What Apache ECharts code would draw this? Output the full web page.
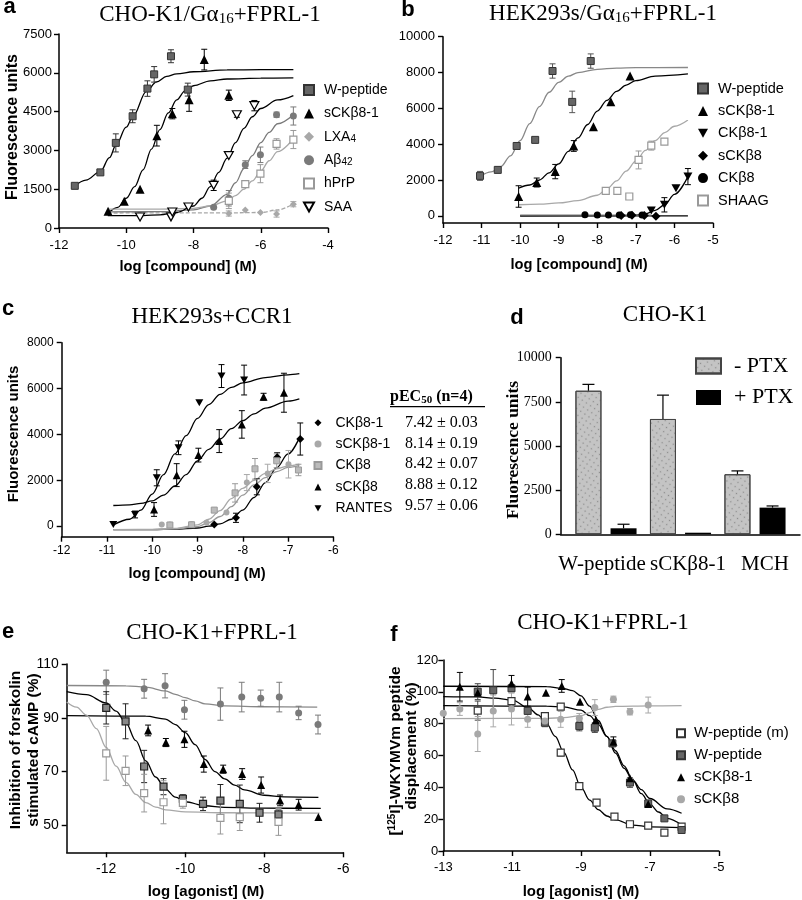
<!DOCTYPE html>
<html><head><meta charset="utf-8">
<script src="https://cdn.jsdelivr.net/npm/echarts@6/dist/echarts.min.js"></script>
<style>html,body{margin:0;padding:0;background:#fff}#c{width:802px;height:900px}</style>
</head><body><div id="c"></div>
<script>
// ---------------- DATA ----------------
// points: [log conc, value, sem]; fits: [log conc, value]
// Panel a
const a_wpep = [[-11.53,1630,0],[-10.77,2150,0],[-10.31,3290,350],[-9.81,4320,250],[-9.37,5390,300],[-9.17,5940,300],[-8.67,6640,250],[-8.17,5350,250]];
const a_wpep_fit = [[-11.55,1600],[-11.2,1850],[-10.77,2180],[-10.5,2720],[-10.3,3220],[-10,3900],[-9.8,4320],[-9.4,5280],[-9.1,5650],[-8.8,5860],[-8.5,5960],[-8,6040],[-7,6110],[-6,6120],[-5.03,6120]];
const a_sck81 = [[-10.54,645,0],[-10.06,1030,0],[-9.59,1500,0],[-9.09,3570,400],[-8.63,4420,200],[-8.13,4960,450],[-7.68,6510,400],[-6.95,5130,200]];
const a_sck81_fit = [[-10.55,560],[-10.25,800],[-10,1150],[-9.75,1600],[-9.5,2250],[-9.25,3050],[-9,3800],[-8.75,4450],[-8.5,4950],[-8.25,5300],[-8,5500],[-7.5,5690],[-7,5760],[-6,5795],[-5.03,5800]];
const a_lxa4 = [[-6.95,560,100],[-6.46,700,0],[-6.01,600,0],[-5.53,540,120],[-5.03,920,100]];
const a_lxa4_fit = [[-10.55,580],[-7,585],[-6,600],[-5.5,700],[-5.03,930]];
const a_ab42 = [[-7.40,800,0],[-6.95,1150,300],[-6.46,2450,150],[-6.01,2830,300],[-5.53,4380,100],[-5.03,4330,350]];
const a_ab42_fit = [[-10.55,620],[-9,630],[-8,700],[-7.5,850],[-7,1300],[-6.75,1750],[-6.5,2300],[-6.25,2800],[-6,3300],[-5.75,3700],[-5.5,4030],[-5.03,4380]];
const a_hprp = [[-6.95,1050,300],[-6.46,1700,0],[-6.01,2100,350],[-5.53,3250,200],[-5.03,3420,350]];
const a_hprp_fit = [[-10.55,730],[-9,730],[-8,760],[-7.5,850],[-7,1050],[-6.75,1250],[-6.5,1500],[-6.25,1820],[-6,2200],[-5.75,2600],[-5.5,2950],[-5.03,3450]];
const a_saa = [[-9.59,425,0],[-8.67,430,0],[-8.63,620,0],[-8.15,810,0],[-7.40,1650,200],[-6.95,2800,0],[-6.71,4380,100],[-6.19,4730,200]];
const a_saa_fit = [[-10.55,480],[-9.5,480],[-9,510],[-8.5,600],[-8,850],[-7.75,1150],[-7.5,1600],[-7.25,2150],[-7,2700],[-6.75,3300],[-6.5,3850],[-6.25,4300],[-6,4620],[-5.5,4950],[-5.03,5120]];
// Panel b
const b_wpep = [[-11.04,2230,250],[-10.58,2565,150],[-10.09,3900,0],[-9.61,4240,0],[-9.16,8085,400],[-8.65,6360,600],[-8.17,8640,400]];
const b_wpep_fit = [[-11.04,2200],[-10.75,2450],[-10.5,2750],[-10.25,3350],[-10,4200],[-9.75,5150],[-9.5,6100],[-9.25,6900],[-9,7450],[-8.75,7800],[-8.5,8000],[-8,8180],[-7.5,8250],[-7,8270],[-5.65,8280]];
const b_sck81 = [[-10.04,1080,600],[-9.57,1860,250],[-9.09,2470,400],[-8.61,3900,300],[-8.10,4980,0],[-7.65,6375,0],[-7.15,7810,0]];
const b_sck81_fit = [[-10.04,1540],[-9.75,1720],[-9.5,2000],[-9.25,2400],[-9,2900],[-8.75,3600],[-8.5,4350],[-8.25,5100],[-8,5850],[-7.75,6450],[-7.5,6950],[-7.25,7300],[-7,7550],[-6.5,7800],[-5.65,7920]];
const b_ck81 = [[-6.60,300,0],[-6.26,615,400],[-5.96,1540,0],[-5.65,2190,450]];
const b_ck81_fit = [[-10,0],[-7.5,10],[-7,40],[-6.75,120],[-6.5,300],[-6.25,620],[-6,1200],[-5.65,2200]];
const b_sck8 = [[-7.38,20,0],[-7.10,30,0],[-6.78,20,0],[-6.48,-30,0]];
const b_sck8_fit = [[-10,0],[-5.65,0]];
const b_ck8 = [[-8.32,60,0],[-8.0,50,0],[-7.71,50,0],[-7.43,40,0],[-7.14,60,0],[-6.84,40,0]];
const b_ck8_fit = [[-10,40],[-6.6,40]];
const b_shaag = [[-7.78,1395,0],[-7.48,1395,0],[-7.17,1080,0],[-6.93,3120,500],[-6.60,3920,250],[-6.26,4145,0]];
const b_shaag_fit = [[-10.04,620],[-9.5,650],[-9,720],[-8.5,850],[-8,1150],[-7.75,1500],[-7.5,1950],[-7.25,2500],[-7,3050],[-6.75,3650],[-6.5,4200],[-6.25,4650],[-6,5000],[-5.65,5350]];
// Panel c
const c_ck81 = [[-8.63,73,0],[-8.15,364,200],[-7.69,1716,350],[-7.24,3000,200],[-6.73,3800,700]];
const c_ck81_fit = [[-10.86,-150],[-10,-150],[-9.5,-130],[-9,-80],[-8.75,0],[-8.5,100],[-8.25,300],[-8,700],[-7.75,1250],[-7.5,1900],[-7.25,2550],[-7,3150],[-6.75,3850]];
const c_sck81 = [[-9.79,70,0],[-9.61,70,0],[-9.13,80,0],[-8.80,150,0],[-8.36,600,0],[-7.91,1900,350],[-7.45,2300,400],[-6.99,2700,600]];
const c_sck81_fit = [[-10.86,-150],[-10,-150],[-9.5,-120],[-9,-20],[-8.75,150],[-8.5,420],[-8.25,850],[-8,1350],[-7.75,1800],[-7.5,2120],[-7.25,2380],[-7,2560],[-6.75,2650]];
const c_ck8 = [[-9.61,50,0],[-9.13,60,0],[-8.63,700,0],[-8.17,1450,400],[-7.73,2500,450],[-7.25,2850,300],[-6.77,2450,250]];
const c_ck8_fit = [[-10.86,-150],[-10,-140],[-9.5,-100],[-9,60],[-8.75,300],[-8.5,680],[-8.25,1200],[-8,1650],[-7.75,2000],[-7.5,2300],[-7.25,2500],[-7,2620],[-6.75,2700]];
const c_sck8 = [[-9.96,727,300],[-9.46,2225,500],[-8.98,3098,300],[-8.52,3709,500],[-8.02,4436,600],[-7.54,5644,150],[-7.09,5818,850]];
const c_sck8_fit = [[-10.86,900],[-10.5,930],[-10.25,990],[-10,1100],[-9.75,1350],[-9.5,1750],[-9.25,2250],[-9,2850],[-8.75,3350],[-8.5,3800],[-8.25,4250],[-8,4600],[-7.75,4900],[-7.5,5150],[-7,5450],[-6.75,5550]];
const c_rantes = [[-10.86,73,0],[-10.38,509,150],[-9.90,2109,350],[-9.42,3418,300],[-8.96,5380,0],[-8.47,6545,500],[-7.97,6371,650]];
const c_rantes_fit = [[-10.86,50],[-10.5,300],[-10.25,700],[-10,1400],[-9.75,2250],[-9.5,3150],[-9.25,3950],[-9,4700],[-8.75,5300],[-8.5,5750],[-8.25,6050],[-8,6250],[-7.5,6480],[-7,6600],[-6.75,6650]];
const c_pec50 = [7.42, 8.14, 8.42, 8.88, 9.57];
const c_pec50_sem = [0.03, 0.19, 0.07, 0.12, 0.06];
// Panel d
const d_cats = ['W-peptide', 'sCKβ8-1', 'MCH'];
const d_minus = [8130, 6530, 3400];
const d_minus_err = [360, 1350, 190];
const d_plus = [340, 90, 1510];
const d_plus_err = [230, 0, 95];
// Panel e
const e_sck8 = [[-12.0,103.2,4.5],[-11.04,100.8,3.5],[-10.51,101.9,4.5],[-10.02,93.0,3.5],[-9.11,95.1,6],[-8.57,97.7,5.5],[-8.09,97.3,3],[-7.62,97.7,5.5],[-7.13,91.8,2.5],[-6.64,87.5,3.5]];
const e_sck8_fit = [[-13,102],[-11.5,101.9],[-11,101.4],[-10.5,100],[-10.25,98.7],[-10,97.5],[-9.75,96.3],[-9.5,95.2],[-9,94.4],[-8,94.1],[-6.66,94]];
const e_sck81 = [[-10.94,85.3,2],[-10.49,80.8,1.5],[-10.02,82.0,3],[-9.53,72.8,3],[-9.04,70.9,1.5],[-8.56,69.1,2],[-8.08,65.0,3],[-7.60,59.3,2],[-7.13,57.7,2],[-6.63,53.1,0]];
const e_sck81_fit = [[-13,90.8],[-11,90.6],[-10.5,89.5],[-10.25,87.5],[-10,84.5],[-9.75,80],[-9.5,74.5],[-9.25,70],[-9,67.3],[-8.75,65],[-8.5,63.2],[-8,61.2],[-7.5,60.6],[-6.63,60.4]];
const e_wpep = [[-12.0,93.7,6],[-11.51,88.7,6.5],[-11.04,71.9,6],[-10.55,64.4,3],[-10.06,59.9,1.5],[-9.55,58.0,2.5],[-9.11,59.2,6],[-8.62,58.0,7],[-8.12,54.7,3.5],[-7.64,54.1,2]];
const e_wpep_fit = [[-13,99.7],[-12.5,98.6],[-12,95.5],[-11.75,92.5],[-11.5,88],[-11.25,81.5],[-11,74],[-10.75,68],[-10.5,63.5],[-10.25,60.5],[-10,58.8],[-9.5,57.3],[-9,56.7],[-8,56.4],[-6.57,56.3]];
const e_wpepm = [[-12.0,76.8,10],[-11.51,70.3,5.5],[-11.04,62.0,7],[-10.55,58.6,8],[-10.06,58.4,2],[-9.11,52.8,6],[-8.62,53.1,5],[-7.64,51.3,5]];
const e_wpepm_fit = [[-13,95.9],[-12.75,94],[-12.5,91],[-12.25,86],[-12,79],[-11.75,72],[-11.5,66],[-11.25,61.5],[-11,58.5],[-10.75,56.8],[-10.5,55.8],[-10,55],[-9,54.7],[-6.6,54.6]];
// Panel f
const f_wpepm = [[-12.0,88.2,6],[-11.02,94.2,0],[-10.05,84.8,0],[-9.59,90.7,0],[-9.59,61.8,2],[-9.05,40.8,2],[-8.55,30.4,0],[-8.03,21.6,0],[-7.58,16.8,1.5],[-7.05,15.9,0],[-6.58,11.5,0],[-6.08,15.3,0]];
const f_wpepm_fit = [[-13,97],[-12,96.8],[-11.5,96],[-11,94.8],[-10.5,89.5],[-10.25,85.5],[-10,80],[-9.75,72],[-9.5,62],[-9.25,51],[-9,40],[-8.75,32],[-8.5,26],[-8.25,22],[-8,19.5],[-7.5,16.3],[-7,15.2],[-6.08,14.7]];
const f_wpep = [[-12.0,100.1,5],[-11.55,101,13],[-11.02,102.2,0],[-10.55,88.0,0],[-10.05,80.6,2.5],[-9.05,78.5,3],[-8.60,77.5,3],[-8.09,67.6,2],[-7.58,43,3],[-7.05,29.9,0],[-6.58,20.5,0],[-6.08,13.2,0]];
const f_wpep_fit = [[-13,91.3],[-10,91],[-9.5,90.5],[-9,88.5],[-8.75,85],[-8.5,79.5],[-8.25,72],[-8,63],[-7.75,53.5],[-7.5,44.5],[-7.25,36],[-7,29.5],[-6.75,24.5],[-6.5,20.5],[-6.08,16.3]];
const f_sck81 = [[-12.52,103.2,9],[-12.0,99.5,0],[-11.02,105.3,5],[-10.55,97.0,6],[-10.02,99.5,0],[-9.56,103.7,4],[-9.03,93.8,0],[-8.57,82.3,0],[-8.06,68.7,3],[-7.58,45.7,0],[-7.05,29.5,2]];
const f_sck81_fit = [[-13,103.5],[-10,103.3],[-9.5,102],[-9.25,100.8],[-9,97.5],[-8.75,91],[-8.5,82],[-8.25,72],[-8,61.5],[-7.75,52],[-7.5,44.5],[-7.25,38.5],[-7,33],[-6.5,26.5],[-6.08,23.7]];
const f_sck8 = [[-13.0,86.5,0],[-12.52,89.2,4],[-12.0,73.5,11],[-11.55,88.0,10],[-11.02,89.2,10],[-10.55,82.7,5],[-10.05,81.7,3],[-9.59,82.7,5],[-9.05,83.4,3],[-8.60,90.1,5],[-8.06,95.3,2],[-7.58,87.5,2],[-7.05,91.7,5]];
const f_sck8_fit = [[-13,83.2],[-10,83.3],[-9.5,83.8],[-9,85],[-8.75,87],[-8.5,89],[-8.25,90.3],[-8,90.9],[-7,91.2],[-6.08,91.3]];

// ---------------- BUILD ----------------
const SANS = '"Liberation Sans", Arial, Helvetica, sans-serif';
const SERIF = '"Liberation Serif", "Times New Roman", Times, serif';
const INV_TRI = 'path://M0,0L10,0L5,9Z';

const grids = [
  {left:59, top:34, width:269, height:194},
  {left:443, top:36.7, width:270, height:186.3},
  {left:61.7, top:342.7, width:271.6, height:194},
  {left:568.75, top:357.7, width:223.5, height:176.6},
  {left:66.7, top:664, width:276.6, height:188.3},
  {left:443.3, top:660, width:275.5, height:191},
  {left:560.7, top:357.7, width:239.3, height:176.6}
];

const plain = v => String(v);
function axis(gi, o) {
  const lab = Object.assign({color:'#000', fontFamily:SANS, fontSize:13, margin:8, formatter:plain}, o.label || {});
  const tick = Object.assign({show:true, inside:false, length:5, lineStyle:{color:'#000', width:1.4}}, o.tick || {});
  const ax = {
    type:'value', gridIndex:gi,
    axisLine:{show:true, onZero:false, lineStyle:{color:'#000', width:1.5}},
    axisTick:tick, axisLabel:lab,
    splitLine:{show:false}, minorTick:{show:false}, minorSplitLine:{show:false}
  };
  ['min','max','interval','offset','type','data','show','boundaryGap'].forEach(k => { if (o[k] !== undefined) ax[k] = o[k]; });
  if (o.axisLine) ax.axisLine = o.axisLine;
  return ax;
}

const xAxis = [
  axis(0, {min:-12, max:-4, interval:2, label:{margin:11}}),
  axis(1, {min:-12, max:-5, interval:1, label:{margin:11}}),
  axis(2, {min:-12, max:-6, interval:1, label:{margin:8, fontSize:12}}),
  axis(3, {type:'category', data:d_cats, boundaryGap:true, axisLine:{show:false}, tick:{show:false},
    label:{margin:20, interval:0, fontFamily:SERIF, fontSize:21, hideOverlap:false,
      formatter:(v, i) => ['{w|' + v + '}', '{s|' + v + '}', '{m|' + v + '}'][i],
      rich:{w:{fontFamily:SERIF, fontSize:21, padding:[0,8,0,0]},
            s:{fontFamily:SERIF, fontSize:21, padding:[0,0,0,15]},
            m:{fontFamily:SERIF, fontSize:21, padding:[0,0,0,20]}}}}),
  axis(4, {min:-13, max:-6, label:{margin:10, fontSize:14, customValues:[-12,-10,-8,-6]}, tick:{customValues:[-12,-10,-8,-6]}}),
  axis(5, {min:-13, max:-5, label:{margin:10, customValues:[-13,-11,-9,-7,-5]}, tick:{customValues:[-13,-11,-9,-7,-5]}}),
  axis(6, {min:0, max:1, tick:{show:false}, label:{show:false}})
];
const yAxis = [
  axis(0, {min:0, max:7500, interval:1500, label:{margin:7}}),
  axis(1, {min:-400, max:10000, label:{margin:8, customValues:[0,2000,4000,6000,8000,10000]}, tick:{customValues:[0,2000,4000,6000,8000,10000]}}),
  axis(2, {min:-460, max:8000, label:{margin:8, fontSize:12, customValues:[0,2000,4000,6000,8000]}, tick:{customValues:[0,2000,4000,6000,8000]}}),
  axis(3, {min:0, max:10000, interval:2500, offset:8.05, label:{margin:9, fontFamily:SERIF, fontSize:14}}),
  axis(4, {min:40, max:110, label:{margin:8, fontSize:14, customValues:[50,70,90,110]}, tick:{customValues:[50,70,90,110]}}),
  axis(5, {min:0, max:120, interval:20, label:{margin:5}}),
  axis(6, {min:0, max:1, show:false})
];

function errBars(color) {
  return function (params, api) {
    const x = api.value(0), y = api.value(1), e = api.value(2);
    const p1 = api.coord([x, y + e]), p2 = api.coord([x, y - e]);
    const s = {stroke:color, lineWidth:1};
    return {type:'group', children:[
      {type:'line', shape:{x1:p1[0], y1:p1[1], x2:p2[0], y2:p2[1]}, style:s},
      {type:'line', shape:{x1:p1[0]-3, y1:p1[1], x2:p1[0]+3, y2:p1[1]}, style:s},
      {type:'line', shape:{x1:p2[0]-3, y1:p2[1], x2:p2[0]+3, y2:p2[1]}, style:s}
    ]};
  };
}

const series = [];
function addSet(g, key, label, pts, fit, st) {
  if (fit) series.push({type:'line', name:key + '-fit', xAxisIndex:g, yAxisIndex:g, data:fit,
    smooth:0.35, smoothMonotone:'x', showSymbol:false, symbol:'none', silent:true, z:2,
    lineStyle:{color:st.line, width:st.lw || 1.3, type:st.dash || 'solid'}});
  const ebs = pts.filter(p => p[2] > 0);
  if (ebs.length) series.push({type:'custom', name:key + '-err', xAxisIndex:g, yAxisIndex:g, data:ebs,
    renderItem:errBars(st.err || st.stroke || st.fill), silent:true, z:3});
  series.push({type:'scatter', name:label ? key + '@' + label : key, xAxisIndex:g, yAxisIndex:g,
    data:pts.map(p => [p[0], p[1]]), symbol:st.symbol, symbolSize:st.size || 7,
    itemStyle:{color:st.fill, borderColor:st.stroke || st.fill, borderWidth:st.bw || 0, opacity:1}, z:4, silent:true});
}

const BK = '#000', MG = '#7a7a7a', LG = '#a8a8a8';
// a
addSet(0, 'a1', 'W-peptide', a_wpep, a_wpep_fit, {symbol:'rect', size:7, fill:'#666', stroke:'#333', bw:1, line:BK, err:'#333'});
addSet(0, 'a2', 'sCKβ8-1', a_sck81, a_sck81_fit, {symbol:'triangle', size:9, fill:BK, line:BK});
addSet(0, 'a3', 'LXA{s|4}', a_lxa4, a_lxa4_fit, {symbol:'diamond', size:7, fill:LG, line:LG, dash:[4,2]});
addSet(0, 'a4', 'Aβ{s|42}', a_ab42, a_ab42_fit, {symbol:'circle', size:7, fill:MG, line:MG});
addSet(0, 'a5', 'hPrP', a_hprp, a_hprp_fit, {symbol:'rect', size:7, fill:'#fff', stroke:'#999', bw:1.2, line:LG});
addSet(0, 'a6', 'SAA', a_saa, a_saa_fit, {symbol:INV_TRI, size:[9,8], fill:'#fff', stroke:BK, bw:1.2, line:BK});
// b
addSet(1, 'b1', 'W-peptide', b_wpep, b_wpep_fit, {symbol:'rect', size:7, fill:'#666', stroke:'#333', bw:1, line:'#888', err:'#555'});
addSet(1, 'b2', 'sCKβ8-1', b_sck81, b_sck81_fit, {symbol:'triangle', size:9, fill:BK, line:BK});
addSet(1, 'b3', 'CKβ8-1', b_ck81, b_ck81_fit, {symbol:INV_TRI, size:[9,8], fill:BK, line:BK});
addSet(1, 'b4', 'sCKβ8', b_sck8, b_sck8_fit, {symbol:'diamond', size:9, fill:BK, line:BK});
addSet(1, 'b5', 'CKβ8', b_ck8, b_ck8_fit, {symbol:'circle', size:7, fill:BK, line:'#777'});
addSet(1, 'b6', 'SHAAG', b_shaag, b_shaag_fit, {symbol:'rect', size:7, fill:'#fff', stroke:'#999', bw:1.2, line:LG});
// c
addSet(2, 'c1', 'CKβ8-1', c_ck81, c_ck81_fit, {symbol:'diamond', size:8, fill:BK, line:BK});
addSet(2, 'c2', 'sCKβ8-1', c_sck81, c_sck81_fit, {symbol:'circle', size:6, fill:LG, line:'#999'});
addSet(2, 'c3', 'CKβ8', c_ck8, c_ck8_fit, {symbol:'rect', size:6, fill:'#bbb', stroke:'#999', bw:1, line:LG});
addSet(2, 'c4', 'sCKβ8', c_sck8, c_sck8_fit, {symbol:'triangle', size:8, fill:BK, line:BK});
addSet(2, 'c5', 'RANTES', c_rantes, c_rantes_fit, {symbol:INV_TRI, size:[8,7], fill:BK, line:BK});
// e
addSet(4, 'e1', null, e_sck8, e_sck8_fit, {symbol:'circle', size:7, fill:MG, line:'#888'});
addSet(4, 'e2', null, e_sck81, e_sck81_fit, {symbol:'triangle', size:8, fill:BK, line:BK});
addSet(4, 'e3', null, e_wpep, e_wpep_fit, {symbol:'rect', size:7, fill:'#888', stroke:'#222', bw:1.2, line:BK, err:'#222'});
addSet(4, 'e4', null, e_wpepm, e_wpepm_fit, {symbol:'rect', size:7, fill:'#fff', stroke:'#999', bw:1.2, line:LG});
// f
addSet(5, 'f1', 'W-peptide (m)', f_wpepm, f_wpepm_fit, {symbol:'rect', size:7, fill:'#fff', stroke:'#333', bw:1.2, line:BK, err:'#444'});
addSet(5, 'f2', 'W-peptide', f_wpep, f_wpep_fit, {symbol:'rect', size:7, fill:'#666', stroke:'#333', bw:1, line:BK, err:'#444'});
addSet(5, 'f3', 'sCKβ8-1', f_sck81, f_sck81_fit, {symbol:'triangle', size:8, fill:BK, line:BK});
addSet(5, 'f4', 'sCKβ8', f_sck8, f_sck8_fit, {symbol:'circle', size:7, fill:LG, line:LG});

// d bars
const BAR_W = 26, BAR_GAP = 0.35;
series.push({type:'bar', name:'d@- PTX', xAxisIndex:3, yAxisIndex:3, data:d_minus, barWidth:BAR_W, barGap:(BAR_GAP*100)+'%',
  itemStyle:{color:'#c4c4c4', borderColor:'#444', borderWidth:1,
    decal:{symbol:'circle', symbolSize:0.5, color:'rgba(70,70,70,0.45)', dashArrayX:[3,2], dashArrayY:[3,2], rotation:0.6}}, z:3, silent:true});
series.push({type:'bar', name:'d@+ PTX', xAxisIndex:3, yAxisIndex:3, data:d_plus, barWidth:BAR_W,
  itemStyle:{color:'#000'}, z:3, silent:true});
const barErr = [];
d_minus.forEach((v, i) => { if (d_minus_err[i] > 0) barErr.push([i, v, d_minus_err[i], -1]); });
d_plus.forEach((v, i) => { if (d_plus_err[i] > 0) barErr.push([i, v, d_plus_err[i], 1]); });
series.push({type:'custom', name:'d-err', xAxisIndex:3, yAxisIndex:3, data:barErr, silent:true, z:4,
  renderItem:function (params, api) {
    const off = api.value(3) * (BAR_W * (1 + BAR_GAP)) / 2;
    const p0 = api.coord([api.value(0), api.value(1)]);
    const p1 = api.coord([api.value(0), api.value(1) + api.value(2)]);
    const x = p0[0] + off, s = {stroke:'#000', lineWidth:1.2};
    return {type:'group', children:[
      {type:'line', shape:{x1:x, y1:p0[1], x2:x, y2:p1[1]}, style:s},
      {type:'line', shape:{x1:x-6, y1:p1[1], x2:x+6, y2:p1[1]}, style:s}
    ]};
  }});

const fmt = n => n.slice(n.indexOf('@') + 1);
function lg(names, left, top, gap, fs, pad, iw, lh) {
  return {show:true, orient:'vertical', left, top, itemGap:gap, itemWidth:iw, itemHeight:iw, data:names,
    formatter:fmt, selectedMode:false, padding:0, inactiveColor:'#000',
    textStyle:{fontFamily:SANS, fontSize:fs, color:'#000', lineHeight:lh || 14, padding:[0,0,0,pad],
      rich:{s:{fontFamily:SANS, fontSize:fs - 4, lineHeight:6, verticalAlign:'bottom', color:'#000'}}}};
}
const legends = [
  lg(['a1@W-peptide','a2@sCKβ8-1','a3@LXA{s|4}','a4@Aβ{s|42}','a5@hPrP','a6@SAA'], 303, 83, 9.4, 14, 5, 10),
  lg(['b1@W-peptide','b2@sCKβ8-1','b3@CKβ8-1','b4@sCKβ8','b5@CKβ8','b6@SHAAG'], 697, 81, 7.4, 14.5, 5, 10),
  lg(['c1@CKβ8-1','c2@sCKβ8-1','c3@CKβ8','c4@sCKβ8','c5@RANTES'], 313.5, 415.7, 7.4, 14, 9, 7),
  lg(['f1@W-peptide (m)','f2@W-peptide','f3@sCKβ8-1','f4@sCKβ8'], 676, 725.8, 7, 15, 4, 8, 15),
  {show:true, orient:'vertical', left:695, top:355, itemGap:9.5, itemWidth:25, itemHeight:15, icon:'rect',
   data:['d@- PTX','d@+ PTX'], formatter:fmt, selectedMode:false, padding:0,
   textStyle:{fontFamily:SERIF, fontSize:22, color:'#000', lineHeight:15, padding:[0,0,0,8]}}
];

// texts
const G = [];
function txt(x, y, text, o) {
  o = o || {};
  const st = {text, fontFamily:o.ff || SANS, fontSize:o.fs || 14, fontWeight:o.fw || 'normal', fill:'#000',
    align:o.align || 'center', verticalAlign:'middle', textAlign:o.align || 'center', textVerticalAlign:'middle'};
  if (o.rich) st.rich = o.rich;
  if (o.lh) st.lineHeight = o.lh;
  G.push({type:'text', x, y, rotation:o.rot || 0, style:st, silent:true, z:10});
}
const subR = fs => ({s:{fontFamily:SERIF, fontSize:fs, lineHeight:8, verticalAlign:'bottom'}});
const TS = {ff:SERIF, fs:23, lh:24, rich:subR(15)};
txt(210, 15, 'CHO-K1/Gα{s|16}+FPRL-1', TS);
txt(603, 14, 'HEK293s/Gα{s|16}+FPRL-1', TS);
txt(212, 317, 'HEK293s+CCR1', {ff:SERIF, fs:23});
txt(665, 315, 'CHO-K1', {ff:SERIF, fs:23});
txt(212, 633, 'CHO-K1+FPRL-1', {ff:SERIF, fs:23});
txt(603, 623, 'CHO-K1+FPRL-1', {ff:SERIF, fs:23});
const LB = {fs:22, fw:'bold'};
txt(9.5, 7, 'a', LB); txt(408, 10, 'b', LB); txt(8, 309, 'c', LB);
txt(517, 318, 'd', LB); txt(8, 632, 'e', LB); txt(394, 635, 'f', LB);
const AX = {fs:14.7, fw:'bold'};
txt(188, 267, 'log [compound] (M)', AX);
txt(579, 265, 'log [compound] (M)', AX);
txt(197, 574, 'log [compound] (M)', AX);
txt(206, 892, 'log [agonist] (M)', {fs:15, fw:'bold'});
txt(581, 892, 'log [agonist] (M)', {fs:15, fw:'bold'});
const R = Math.PI / 2;
txt(12.5, 127, 'Fluorescence units', {fs:16, fw:'bold', rot:R});
txt(14, 434, 'Fluorescence units', {fs:15, fw:'bold', rot:R});
txt(513.5, 450, 'Fluorescence units', {ff:SERIF, fs:17.5, fw:'bold', rot:R});
txt(15.5, 750, 'Inhibition of forskolin', {fs:15.5, fw:'bold', rot:R});
txt(34, 750, 'stimulated cAMP (%)', {fs:15.5, fw:'bold', rot:R});
txt(396, 751, '[{p|125}I]-WKYMVm peptide', {fs:15.5, fw:'bold', rot:R, lh:18,
  rich:{p:{fontFamily:SANS, fontSize:10, fontWeight:'bold', lineHeight:8, verticalAlign:'top'}}});
txt(411.5, 746, 'displacement (%)', {fs:15.5, fw:'bold', rot:R});
// pEC50 table
txt(390, 396.7, 'pEC{s|50} (n=4)', {ff:SERIF, fs:16, fw:'bold', align:'left', lh:18,
  rich:{s:{fontFamily:SERIF, fontSize:11, fontWeight:'bold', lineHeight:4, verticalAlign:'bottom'}}});
G.push({type:'line', shape:{x1:390, y1:406.7, x2:485, y2:406.7}, style:{stroke:'#000', lineWidth:1.3}, silent:true});
const rowsY = [422.7, 443.3, 464, 485, 506];
c_pec50.forEach((v, i) => txt(405, rowsY[i], v.toFixed(2) + ' ± ' + c_pec50_sem[i].toFixed(2), {ff:SERIF, fs:16, align:'left'}));

const option = {
  animation:false, backgroundColor:'#fff',
  grid:grids.map(g => Object.assign({containLabel:false, outerBoundsMode:'none', show:false}, g)),
  xAxis, yAxis, legend:legends, series, graphic:G, tooltip:{show:false}
};
const chart = echarts.init(document.getElementById('c'), null, {renderer:'canvas'});
chart.setOption(option);
</script></body></html>
